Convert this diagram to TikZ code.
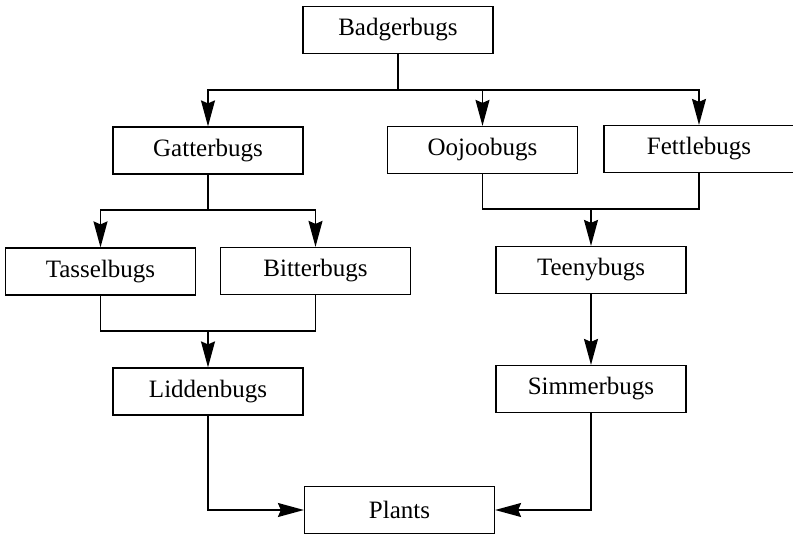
\documentclass[tikz,border=0pt]{standalone}
\usepackage{fontspec}
\setmainfont{Liberation Serif}
\usetikzlibrary{arrows.meta}
\begin{document}
\begin{tikzpicture}[x=1pt, y=-1pt,
    >={Stealth[length=26pt, width=14pt, inset=3pt]},
    bugBox/.style={draw=borderColour, line width=1.2pt, minimum width=\boxWidth pt,
        minimum height=\boxHeight pt, inner sep=0pt, font=\fontsize{25}{29}\selectfont},
    link/.style={draw=borderColour, line width=1.5pt},
    feed/.style={link, ->}]
    \definecolor{borderColour}{HTML}{000000}

    \def\boxWidth{190}
    \def\boxHeight{47}

    \useasboundingbox (0,0) rectangle (793,535);

    % Draw boxes
    \node[bugBox] (badger) at (398,30) {Badgerbugs};
    \node[bugBox] (gatter) at (208,150.5) {Gatterbugs};
    \node[bugBox] (oojoo) at (482.5,150) {Oojoobugs};
    \node[bugBox] (fettle) at (699,149) {Fettlebugs};
    \node[bugBox] (tassel) at (100.5,271.5) {Tasselbugs};
    \node[bugBox] (bitter) at (315.5,271) {Bitterbugs};
    \node[bugBox] (teeny) at (591,270) {Teenybugs};
    \node[bugBox] (lidden) at (208,391.5) {Liddenbugs};
    \node[bugBox] (simmer) at (591,389) {Simmerbugs};
    \node[bugBox] (plants) at (399.5,510) {Plants};

    % Define junction points
    \coordinate (topBar) at (398,90);
    \coordinate (gatterBar) at (208,210);
    \coordinate (liddenBar) at (208,331);
    \coordinate (teenyBar) at (591,209);

    % Draw links from Badgerbugs
    \draw[link] (badger) -- (topBar);
    \draw[feed] (topBar) -| (gatter);
    \draw[feed] (topBar) -| (oojoo);
    \draw[feed] (topBar) -| (fettle);

    % Draw links from Gatterbugs
    \draw[link] (gatter) -- (gatterBar);
    \draw[feed] (gatterBar) -| (tassel);
    \draw[feed] (gatterBar) -| (bitter);

    % Draw joins
    \draw[link] (tassel.south) |- (liddenBar) -| (bitter.south);
    \draw[feed] (liddenBar) -- (lidden);
    \draw[link] (oojoo.south) |- (teenyBar) -| (fettle.south);
    \draw[feed] (teenyBar) -- (teeny);
    \draw[feed] (teeny) -- (simmer);

    % Draw links to Plants
    \draw[feed] (lidden) |- (plants);
    \draw[feed] (simmer) |- (plants);

\end{tikzpicture}
\end{document}
